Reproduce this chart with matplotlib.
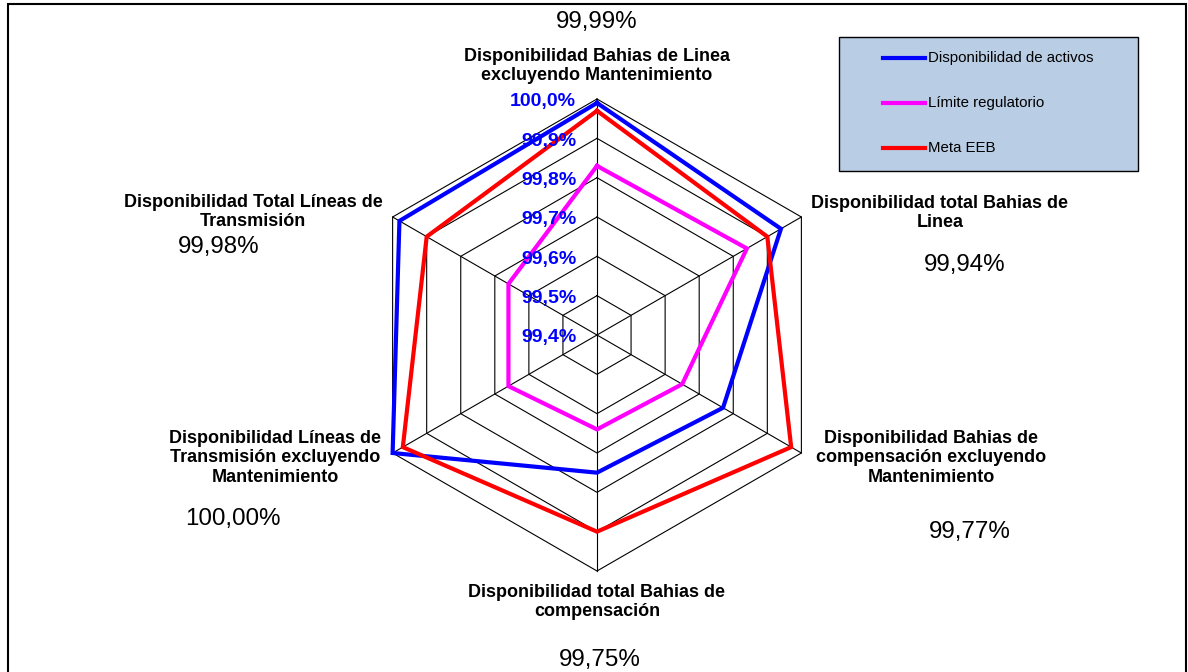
import numpy as np
import matplotlib
matplotlib.use("Agg")
import matplotlib.pyplot as plt
from matplotlib.patches import Rectangle
from matplotlib.lines import Line2D

plt.rcParams['font.family'] = ['Liberation Sans', 'DejaVu Sans']

categories = [
    "Disponibilidad Bahias de Linea\nexcluyendo Mantenimiento",
    "Disponibilidad total Bahias de\nLinea",
    "Disponibilidad Bahias de\ncompensación excluyendo\nMantenimiento",
    "Disponibilidad total Bahias de\ncompensación",
    "Disponibilidad Líneas de\nTransmisión excluyendo\nMantenimiento",
    "Disponibilidad Total Líneas de\nTransmisión",
]
series_names = ["Disponibilidad de activos", "Límite regulatorio", "Meta EEB"]
activos = [99.99, 99.94, 99.77, 99.75, 100.00, 99.98]
limite = [99.83, 99.84, 99.65, 99.64, 99.66, 99.66]
meta = [99.97, 99.90, 99.97, 99.90, 99.97, 99.90]
levels = [99.4, 99.5, 99.6, 99.7, 99.8, 99.9, 100.0]
level_labels = ["99,4%", "99,5%", "99,6%", "99,7%", "99,8%", "99,9%", "100,0%"]
series_colors = ["#0000FF", "#FF00FF", "#FF0000"]

W, H = 1188, 672
fig = plt.figure(figsize=(W / 100, H / 100), dpi=100)


def px(x, y):
    return x / W, 1 - y / H


# polar axes centred on the hexagon
cx, cy, rad = 597, 335, 236
ax = fig.add_axes([(cx - rad) / W, 1 - (cy + rad) / H, 2 * rad / W, 2 * rad / H],
                  projection='polar')
ax.set_theta_offset(np.pi / 2)
ax.set_theta_direction(-1)
ax.set_ylim(levels[0], levels[-1])
ax.grid(False)
ax.set_xticks([])
ax.set_yticks([])
ax.spines['polar'].set_visible(False)
ax.patch.set_alpha(0)

n = len(categories)
angles = np.linspace(0, 2 * np.pi, n, endpoint=False)
closed = np.append(angles, angles[0])

# hexagonal grid
for lv in levels[1:]:
    ax.plot(closed, [lv] * (n + 1), color='black', lw=0.8, clip_on=False, zorder=1)
for a in angles:
    ax.plot([a, a], [levels[0], levels[-1]], color='black', lw=0.8, clip_on=False, zorder=1)

# series
for vals, name, col in zip([activos, limite, meta], series_names, series_colors):
    ax.plot(closed, vals + vals[:1], color=col, lw=3, clip_on=False, zorder=3,
            solid_joinstyle='miter')

# radial labels along the top spoke
for lv, lab in zip(levels, level_labels):
    ax.annotate(lab, xy=(0, lv), xytext=(-15, -2), textcoords='offset points',
                ha='right', va='center', color='#0000FF', fontsize=14,
                fontweight='bold', zorder=4, annotation_clip=False)

# category labels
cat_pos = [(597, 66), (940, 213), (931, 458), (597, 602), (275, 458), (253, 212)]
for lab, (x, y) in zip(categories, cat_pos):
    fig.text(*px(x, y), lab, ha='center', va='center', fontsize=13,
             fontweight='bold', linespacing=1.2)

# value boxes for each axis
val_pos = [(597, 22), (965, 265), (970, 532), (600, 660), (233, 519), (219, 247)]
for v, (x, y) in zip(activos, val_pos):
    txt = f"{v:.2f}%".replace('.', ',')
    fig.text(*px(x, y), txt, ha='center', va='center', fontsize=17.4)

# legend box
lx0, ly0, lx1, ly1 = 839, 37, 1138, 171
fig.patches.append(Rectangle(px(lx0, ly1), (lx1 - lx0) / W, (ly1 - ly0) / H,
                             transform=fig.transFigure, facecolor='#B9CDE5',
                             edgecolor='black', lw=1.0, zorder=0))
for i, (name, col) in enumerate(zip(series_names, series_colors)):
    yy = 58 + i * 45
    x0, y0 = px(883, yy)
    x1, _ = px(925, yy)
    fig.lines.append(Line2D([x0, x1], [y0, y0], transform=fig.transFigure,
                            color=col, lw=3))
    fig.text(*px(928, yy), name, ha='left', va='center', fontsize=10.8)

# outer chart border
fig.patches.append(Rectangle(px(8, 700), (1186 - 8) / W, (700 - 4) / H,
                             transform=fig.transFigure, facecolor='none',
                             edgecolor='black', lw=1.5, zorder=0))

fig.savefig('out.png', dpi=100)
